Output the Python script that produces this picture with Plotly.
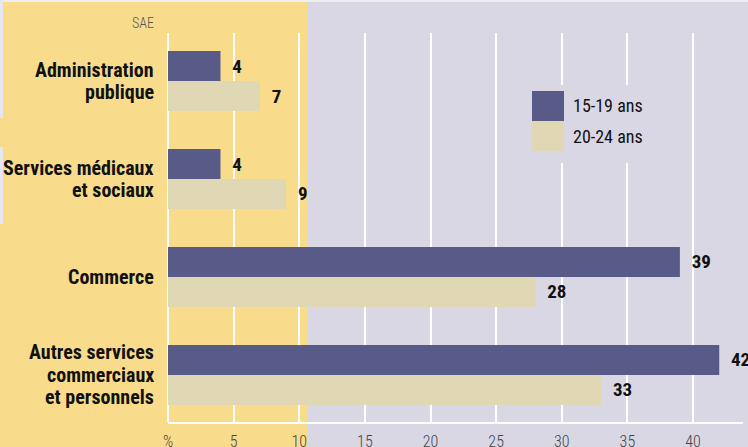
import plotly.graph_objects as go

categories = ["Administration<br>publique", "Services médicaux<br>et sociaux",
              "Commerce", "Autres services<br>commerciaux<br>et personnels"]
v_15_19 = [4, 4, 39, 42]
v_20_24 = [7, 9, 28, 33]
series_names = ["15-19 ans", "20-24 ans"]
tick_vals = [0, 5, 10, 15, 20, 25, 30, 35, 40]
tick_text = ["%", "5", "10", "15", "20", "25", "30", "35", "40"]

DARK = "#585a88"
BEIGE = "#e0d8b4"
YELLOW = "#f8dc8c"
LAV = "#dad7e4"
FONT = "Roboto Condensed, Open Sans Condensed, DejaVu Sans Condensed, sans-serif"

W, H = 748, 447
ML, MR, MT, MB = 168, 5, 33, 25
PW = W - ML - MR
PH = H - MT - MB
LINE_H = 22.5


def px(x):
    return (x - ML) / PW


def py(y):
    return (H - MB - y) / PH


fig = go.Figure()
for name, vals, col in [(series_names[0], v_15_19, DARK), (series_names[1], v_20_24, BEIGE)]:
    fig.add_trace(go.Bar(
        y=categories, x=vals, name=name, orientation="h",
        marker=dict(color=col, line=dict(width=0)),
        text=vals, texttemplate="\u00a0\u00a0%{x}", textposition="outside",
        textfont=dict(family=FONT, size=19, color="#111", weight="bold"),
        cliponaxis=False, constraintext="none", showlegend=False,
    ))

shapes = [
    dict(type="rect", xref="paper", yref="paper", x0=px(-10), x1=px(308), y0=py(460), y1=py(-10),
         fillcolor=YELLOW, line=dict(width=0), layer="below"),
    dict(type="rect", xref="paper", yref="paper", x0=px(-10), x1=px(760), y0=py(2), y1=py(-10),
         fillcolor="#eeeef3", line=dict(width=0), layer="below"),
    dict(type="rect", xref="paper", yref="paper", x0=px(-10), x1=px(3), y0=py(118), y1=py(-10),
         fillcolor="#e6e6ee", line=dict(width=0), layer="below"),
    dict(type="rect", xref="paper", yref="paper", x0=px(-10), x1=px(3), y0=py(224), y1=py(147),
         fillcolor="#e6e6ee", line=dict(width=0), layer="below"),
    # legend box (interrupts the grid) and swatches
    dict(type="rect", xref="paper", yref="paper", x0=px(524), x1=px(662), y0=py(163), y1=py(85),
         fillcolor=LAV, line=dict(width=0), layer="above"),
    dict(type="rect", xref="paper", yref="paper", x0=px(532), x1=px(564), y0=py(121), y1=py(91),
         fillcolor=DARK, line=dict(width=0), layer="above"),
    dict(type="rect", xref="paper", yref="paper", x0=px(532), x1=px(564), y0=py(151), y1=py(121),
         fillcolor=BEIGE, line=dict(width=0), layer="above"),
]

annotations = [
    dict(text="SAE", xref="paper", yref="paper", x=px(156), y=py(23), xanchor="right", yanchor="middle",
         showarrow=False, font=dict(family=FONT, size=14, color="#555", weight=300)),
    dict(text=series_names[0], xref="paper", yref="paper", x=px(571), y=py(106), xanchor="left",
         yanchor="middle", showarrow=False, font=dict(family=FONT, size=18, color="#111")),
    dict(text=series_names[1], xref="paper", yref="paper", x=px(571), y=py(136), xanchor="left",
         yanchor="middle", showarrow=False, font=dict(family=FONT, size=18, color="#111")),
]

# category labels, one annotation per line for tight leading
for cat in categories:
    lines = cat.split("<br>")
    n = len(lines)
    for i, ln in enumerate(lines):
        annotations.append(dict(
            text=ln, xref="paper", yref="y", x=0, y=cat, xanchor="right", yanchor="middle",
            xshift=-12, yshift=((n - 1) / 2 - i) * LINE_H, showarrow=False,
            font=dict(family=FONT, size=20, color="#111", weight="bold")))

fig.update_layout(
    width=W, height=H, autosize=False,
    margin=dict(l=ML, r=MR, t=MT, b=MB, pad=0),
    paper_bgcolor=LAV, plot_bgcolor="rgba(0,0,0,0)",
    barmode="group", bargap=0.388, bargroupgap=0,
    shapes=shapes, annotations=annotations, showlegend=False,
    xaxis=dict(range=[0, PW / 13.125], tickvals=tick_vals, ticktext=tick_text,
               showgrid=True, gridcolor="white", gridwidth=2,
               zeroline=True, zerolinecolor="white", zerolinewidth=2,
               showline=True, linecolor="white", linewidth=2, automargin=False,
               ticks="", ticklabelstandoff=4,
               tickfont=dict(family=FONT, size=16, color="#444", weight=300),
               fixedrange=True),
    yaxis=dict(type="category", range=[3.48, -0.49], showgrid=False, zeroline=False,
               showticklabels=False, automargin=False, fixedrange=True),
)

fig.write_html("out.html", config={"displayModeBar": False},
               post_script="document.body.style.margin='0';document.body.style.overflow='hidden';")
